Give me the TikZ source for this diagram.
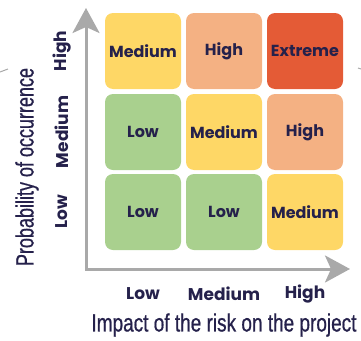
\documentclass[tikz,border=0pt]{standalone}
\usepackage{fontspec}
\setmainfont{Poppins}
\newfontfamily\titlefont[FakeBold=0.8]{Liberation Sans}
\usetikzlibrary{arrows.meta}
\definecolor{ink}{HTML}{25214B}
\definecolor{axisgray}{HTML}{A9A9A9}
\definecolor{cgreen}{HTML}{A9D08E}
\definecolor{cyellow}{HTML}{FED766}
\definecolor{corange}{HTML}{F4B183}
\definecolor{cred}{HTML}{E45B36}

\begin{document}
\begin{tikzpicture}[x=1pt, y=-1pt,
  cell/.style={rounded corners=8pt, minimum width=76pt, minimum height=76pt, inner sep=0pt, text=ink, font=\bfseries\fontsize{16}{16}\selectfont},
  tick/.style={text=ink, font=\bfseries\fontsize{17}{17}\selectfont},
  title/.style={text=ink, font=\titlefont\fontsize{25}{25}\selectfont},
  axis/.style={draw=axisgray, line width=3pt, {Stealth[length=25pt, width=27pt, inset=6pt]}-{Stealth[length=25pt, width=27pt, inset=6pt]}}]
\useasboundingbox (0,0) rectangle (361,340);
\node[cell, fill=cyellow] (a) at (143,51) {Medium};
\node[cell, fill=corange] (b) at (224,51) {High};
\node[cell, fill=cred] (c) at (305,51) {Extreme};
\node[cell, fill=cgreen] (d) at (143,132) {Low};
\node[cell, fill=cyellow] (e) at (224,132) {Medium};
\node[cell, fill=corange] (f) at (305,132) {High};
\node[cell, fill=cgreen] (g) at (143,212) {Low};
\node[cell, fill=cgreen] (h) at (224,212) {Low};
\node[cell, fill=cyellow] (i) at (305,212) {Medium};
\coordinate (top) at (86,8);
\coordinate (o) at (86,269);
\coordinate (right) at (350,269);
\draw[axis] (top) -- (o) -- (right);
\node[tick] (xl) at (143,294) {Low};
\node[tick] (xm) at (224,294) {Medium};
\node[tick] (xh) at (305,294) {High};
\node[tick, rotate=90] (yl) at (62,212) {Low};
\node[tick, rotate=90] (ym) at (62,132) {Medium};
\node[tick, rotate=90] (yh) at (62,51) {High};
\node[title, xscale=0.76] (xt) at (224,325) {Impact of the risk on the project};
\node[title, rotate=90, xscale=0.72] (yt) at (27,167) {Probability of occurrence};
\coordinate (s1) at (0,72);
\coordinate (s2) at (8,69);
\coordinate (s3) at (358,68);
\coordinate (s4) at (361,69);
\draw[axisgray, line width=1pt] (s1) -- (s2);
\draw[axisgray, line width=1pt] (s3) -- (s4);
\end{tikzpicture}
\end{document}
